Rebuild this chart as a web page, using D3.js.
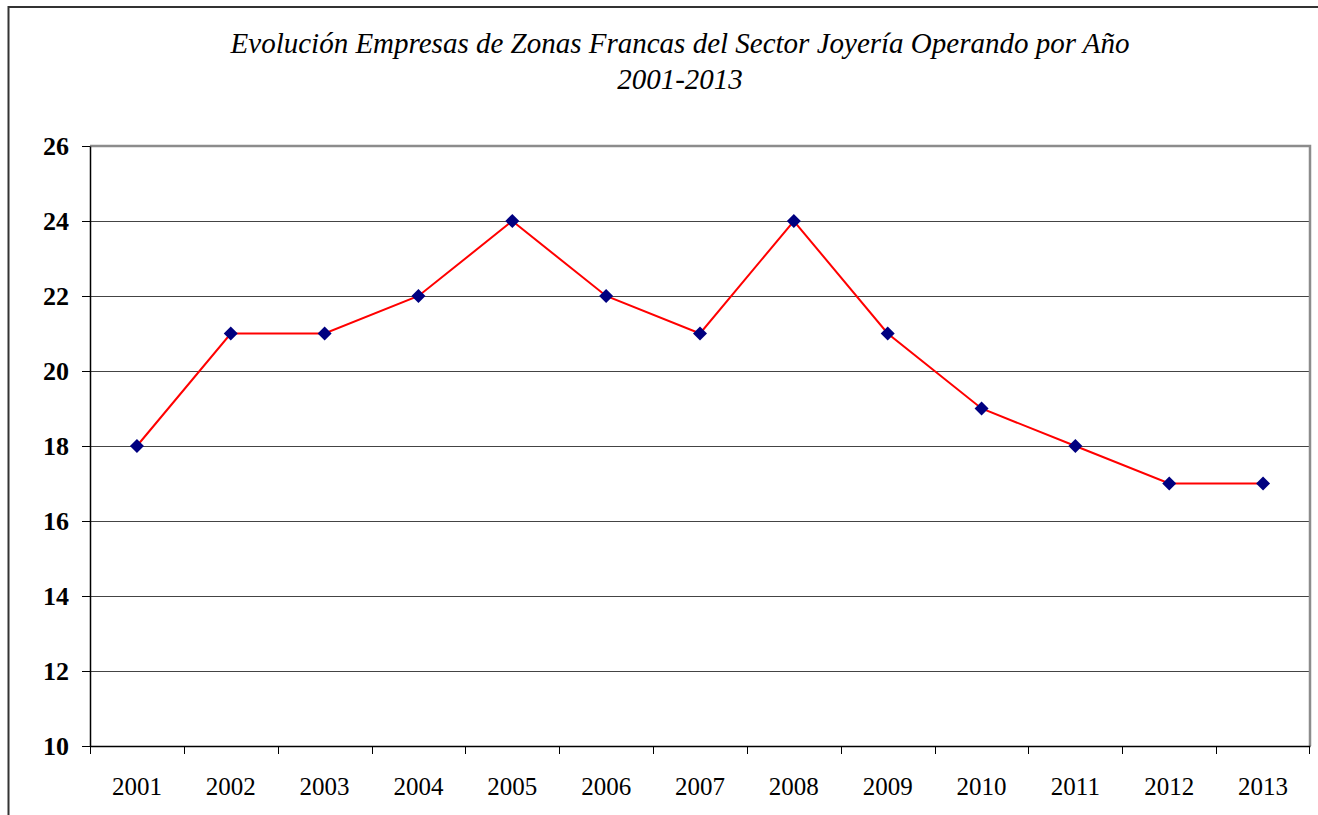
<!DOCTYPE html>
<html>
<head>
<meta charset="utf-8">
<script src="https://cdn.jsdelivr.net/npm/d3@7"></script>
<style>
  body { margin: 0; background: #fff; }
  svg { display: block; }
</style>
</head>
<body>
<div class="chart"></div>
<script>
// data
var years = ["2001","2002","2003","2004","2005","2006","2007","2008","2009","2010","2011","2012","2013"];
var empresas = [18, 21, 21, 22, 24, 22, 21, 24, 21, 19, 18, 17, 17];
var yTicks = [10, 12, 14, 16, 18, 20, 22, 24, 26];
var titleLines = ["Evolución Empresas de Zonas Francas del Sector Joyería Operando por Año", "2001-2013"];

var svgWidth = 1318, svgHeight = 815;
var margin = {top: 146, right: 8, bottom: 69, left: 90};
var chart_width = svgWidth - margin.left - margin.right,
    chart_height = svgHeight - margin.top - margin.bottom;

var svg = d3.select(".chart")
  .append("svg")
    .attr("width", svgWidth)
    .attr("height", svgHeight);

// outer chart border (runs off right/bottom like the original)
svg.append("rect")
  .attr("x", 8.5).attr("y", 7)
  .attr("width", 1400).attr("height", 900)
  .attr("fill", "none")
  .attr("stroke", "#333")
  .attr("stroke-width", 2);

// title
svg.append("text")
  .attr("x", 680)
  .attr("y", 53)
  .attr("text-anchor", "middle")
  .style("font-family", "'Liberation Serif', 'Times New Roman', serif")
  .style("font-style", "italic")
  .style("font-size", "29px")
  .selectAll("tspan")
  .data(titleLines)
  .enter()
  .append("tspan")
    .attr("x", 680)
    .attr("dy", function(d, i){ return i === 0 ? 0 : 36; })
    .text(function(d){ return d; });

var g = svg.append("g")
  .attr("transform", "translate(" + margin.left + "," + margin.top + ")");

var x = d3.scaleBand()
  .domain(years)
  .range([0, chart_width]);

var y = d3.scaleLinear()
  .domain([10, 26])
  .range([chart_height, 0]);

// gridlines
g.selectAll(".grid")
  .data(yTicks.slice(1, -1))
  .enter()
  .append("line")
    .attr("x1", 0).attr("x2", chart_width)
    .attr("y1", function(d){ return Math.round(y(d)) + 0.5; })
    .attr("y2", function(d){ return Math.round(y(d)) + 0.5; })
    .attr("stroke", "#444")
    .attr("stroke-width", 1);

// plot frame top / right (gray)
g.append("path")
  .attr("d", "M0," + 0 + "H" + chart_width + "V" + chart_height)
  .attr("fill", "none")
  .attr("stroke", "#8c8c8c")
  .attr("stroke-width", 2.5);

// y axis
var yAxis = g.append("g")
  .call(d3.axisLeft(y).tickValues(yTicks).tickSize(8).tickPadding(13).tickSizeOuter(0));
yAxis.select(".domain").attr("stroke", "#000").attr("stroke-width", 1.5);
yAxis.selectAll(".tick line").attr("stroke", "#000");
yAxis.selectAll("text")
  .style("font-family", "'Liberation Serif', 'Times New Roman', serif")
  .style("font-weight", "bold")
  .style("font-size", "26px")
  .attr("fill", "#000");

// x axis with ticks between categories
var xAxis = g.append("g")
  .attr("transform", "translate(0," + chart_height + ")")
  .call(d3.axisBottom(x).tickSize(0).tickPadding(31));
xAxis.select(".domain").attr("stroke", "#000").attr("stroke-width", 1.5);
xAxis.selectAll("text")
  .style("font-family", "'Liberation Serif', 'Times New Roman', serif")
  .style("font-size", "25px")
  .attr("fill", "#000");

xAxis.selectAll(".sep")
  .data(years)
  .enter()
  .append("line")
    .attr("x1", function(d){ return Math.round(x(d)) + 0.5; })
    .attr("x2", function(d){ return Math.round(x(d)) + 0.5; })
    .attr("y1", 0).attr("y2", 8)
    .attr("stroke", "#000");
xAxis.append("line")
  .attr("x1", chart_width - 0.5).attr("x2", chart_width - 0.5)
  .attr("y1", 0).attr("y2", 8)
  .attr("stroke", "#000");

// series line
var line = d3.line()
  .x(function(d, i){ return x(years[i]) + x.bandwidth() / 2; })
  .y(function(d){ return y(d); });

g.append("path")
  .datum(empresas)
  .attr("d", line)
  .attr("fill", "none")
  .attr("stroke", "#ff0000")
  .attr("stroke-width", 2);

// diamond markers
g.selectAll(".pt")
  .data(empresas)
  .enter()
  .append("path")
    .attr("class", "pt")
    .attr("transform", function(d, i){
      return "translate(" + (x(years[i]) + x.bandwidth() / 2) + "," + y(d) + ")";
    })
    .attr("d", "M0,-7L7,0L0,7L-7,0Z")
    .attr("fill", "#000080");
</script>
</body>
</html>
